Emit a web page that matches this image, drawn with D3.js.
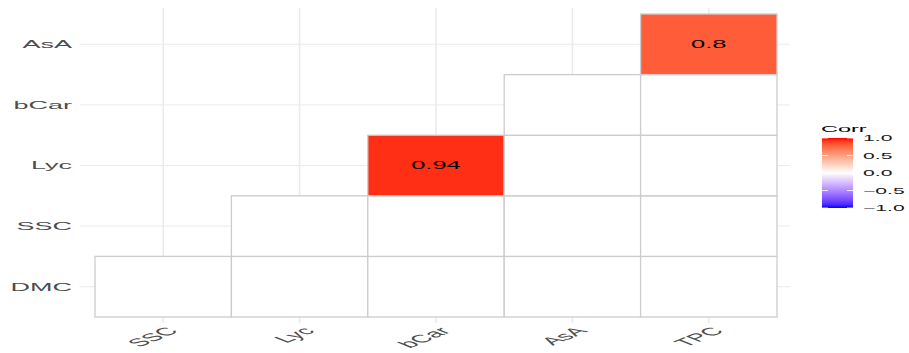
<!DOCTYPE html>
<html>
<head>
<meta charset="utf-8">
<script src="https://cdn.jsdelivr.net/npm/d3@7"></script>
<style>
  html, body { margin: 0; padding: 0; background: #ffffff; }
  svg { display: block; }
  text { font-family: "Liberation Sans", Arial, Helvetica, sans-serif; }
</style>
</head>
<body>
<svg id="chart" width="909" height="353"></svg>
<script>
// Variables on each axis of the lower-triangle correlation plot
const xVars = ["SSC", "Lyc", "bCar", "AsA", "TPC"];
const yVars = ["DMC", "SSC", "Lyc", "bCar", "AsA"];

// Correlations per cell; null = not significant (drawn blank)
const cellX = ["SSC", "Lyc", "bCar", "AsA", "TPC",
               "Lyc", "bCar", "AsA", "TPC",
               "bCar", "AsA", "TPC",
               "AsA", "TPC",
               "TPC"];
const cellY = ["DMC", "DMC", "DMC", "DMC", "DMC",
               "SSC", "SSC", "SSC", "SSC",
               "Lyc", "Lyc", "Lyc",
               "bCar", "bCar",
               "AsA"];
const cellR = [null, null, null, null, null,
               null, null, null, null,
               0.94, null, null,
               null, null,
               0.8];

// Legend
const legendTitle = "Corr";
const legendBreaks = [1.0, 0.5, 0.0, -0.5, -1.0];

const svg = d3.select("#chart");
const W = 909, H = 353;
svg.append("rect").attr("width", W).attr("height", H).attr("fill", "#ffffff");

// Text is stretched horizontally to follow the wide panel aspect
const SX = 2.5;

const panel = { left: 80, right: 790, top: 8, bottom: 323 };
const x = d3.scaleBand().domain(xVars).range([95, 777]).padding(0);
const y = d3.scaleBand().domain(yVars).range([317, 14]).padding(0);

const fill = d3.scaleLinear()
  .domain([-1, 0, 1])
  .range(["blue", "white", "red"])
  .interpolate(d3.interpolateLab);

// Major grid
const grid = svg.append("g");
grid.selectAll("line.v").data(xVars).join("line")
  .attr("x1", d => x(d) + x.bandwidth() / 2)
  .attr("x2", d => x(d) + x.bandwidth() / 2)
  .attr("y1", panel.top).attr("y2", panel.bottom)
  .attr("stroke", "#ebebeb").attr("stroke-width", 1.6);
grid.selectAll("line.h").data(yVars).join("line")
  .attr("y1", d => y(d) + y.bandwidth() / 2)
  .attr("y2", d => y(d) + y.bandwidth() / 2)
  .attr("x1", panel.left).attr("x2", panel.right)
  .attr("stroke", "#ebebeb").attr("stroke-width", 1);

// Cells
const cells = cellX.map((cx, i) => ({ x: cx, y: cellY[i], r: cellR[i] }));
svg.append("g").selectAll("rect").data(cells).join("rect")
  .attr("x", d => x(d.x))
  .attr("y", d => y(d.y))
  .attr("width", x.bandwidth())
  .attr("height", y.bandwidth())
  .attr("fill", d => d.r == null ? "#ffffff" : fill(d.r))
  .attr("stroke", "#cccccc")
  .attr("stroke-width", 1.3);

// Cell labels for significant correlations
svg.append("g").selectAll("text").data(cells.filter(d => d.r != null)).join("text")
  .attr("transform", d => `translate(${x(d.x) + x.bandwidth() / 2},${y(d.y) + y.bandwidth() / 2}) scale(${SX},1)`)
  .attr("text-anchor", "middle")
  .attr("dy", "0.36em")
  .attr("font-size", 10.2)
  .attr("fill", "#000000")
  .text(d => String(d.r));

// Y axis labels
svg.append("g").selectAll("text").data(yVars).join("text")
  .attr("transform", d => `translate(72,${y(d) + y.bandwidth() / 2}) scale(${SX},1)`)
  .attr("text-anchor", "end")
  .attr("dy", "0.36em")
  .attr("font-size", 10.8)
  .attr("fill", "#4d4d4d")
  .text(d => d);

// X axis labels, rotated 45°
svg.append("g").selectAll("text").data(xVars).join("text")
  .attr("transform", d => `translate(${x(d) + x.bandwidth() / 2 + 2},326) scale(${SX},1) rotate(-45)`)
  .attr("text-anchor", "end")
  .attr("dy", "0.72em")
  .attr("font-size", 11)
  .attr("fill", "#4d4d4d")
  .text(d => d);

// Colour bar legend
const lg = { x: 822, y: 138, w: 31, h: 70 };
const ly = d3.scaleLinear().domain([-1, 1]).range([lg.y + lg.h, lg.y]);

const defs = svg.append("defs");
const grad = defs.append("linearGradient")
  .attr("id", "corrGrad")
  .attr("x1", 0).attr("y1", 1).attr("x2", 0).attr("y2", 0);
d3.range(0, 21).forEach(i => {
  const v = -1 + i * 0.1;
  grad.append("stop").attr("offset", (i / 20)).attr("stop-color", fill(v));
});

svg.append("text")
  .attr("transform", `translate(${lg.x - 1},${lg.y - 6}) scale(2.4,1)`)
  .attr("font-size", 9.8)
  .attr("fill", "#000000")
  .text(legendTitle);

svg.append("rect")
  .attr("x", lg.x).attr("y", lg.y)
  .attr("width", lg.w).attr("height", lg.h)
  .attr("fill", "url(#corrGrad)");

const lt = svg.append("g");
lt.selectAll("line.l").data(legendBreaks).join("line")
  .attr("x1", lg.x).attr("x2", lg.x + 6)
  .attr("y1", d => ly(d)).attr("y2", d => ly(d))
  .attr("stroke", "#ffffff").attr("stroke-width", 0.8);
lt.selectAll("line.r").data(legendBreaks).join("line")
  .attr("x1", lg.x + lg.w - 6).attr("x2", lg.x + lg.w)
  .attr("y1", d => ly(d)).attr("y2", d => ly(d))
  .attr("stroke", "#ffffff").attr("stroke-width", 0.8);

svg.append("g").selectAll("text").data(legendBreaks).join("text")
  .attr("transform", d => `translate(${lg.x + lg.w + 10},${ly(d)}) scale(2.35,1)`)
  .attr("dy", "0.36em")
  .attr("font-size", 9)
  .attr("fill", "#1a1a1a")
  .text(d => d3.format(".1f")(d).replace("-", "\u2212"));
</script>
</body>
</html>
